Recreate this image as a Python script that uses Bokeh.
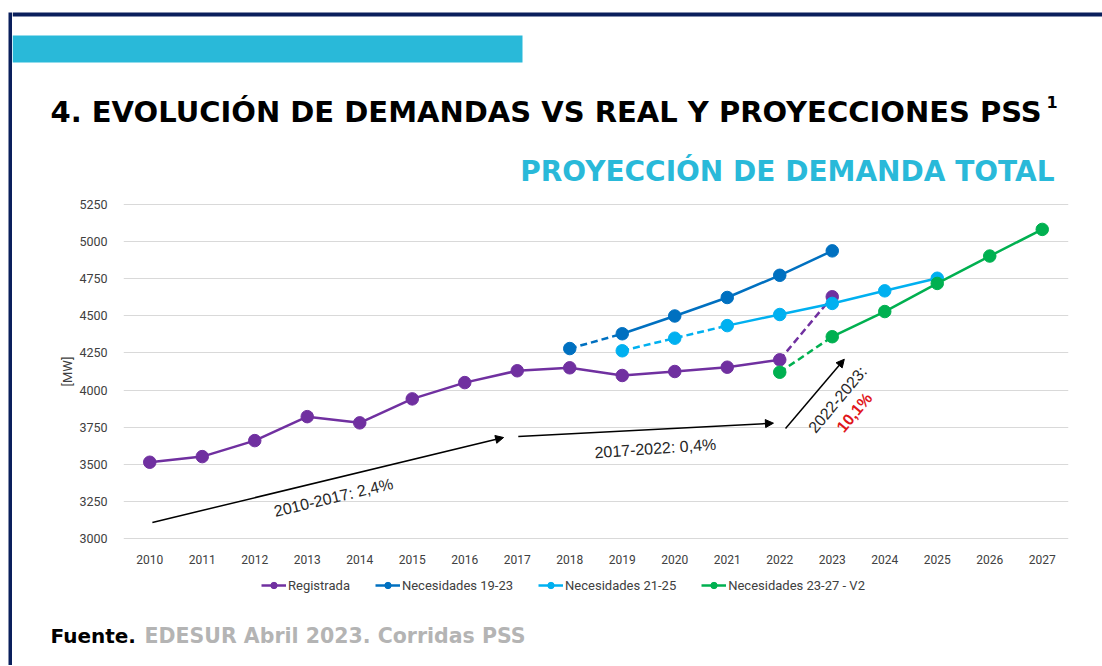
from bokeh.plotting import figure
from bokeh.layouts import column, row
from bokeh.models import (Range1d, FixedTicker, Label, Legend, LegendItem, Arrow,
                          NormalHead, BoxAnnotation, Spacer)
from bokeh.embed import file_html
from bokeh.resources import INLINE

# ---------------- data ----------------
reg_years = list(range(2010, 2024))
reg_vals = [3512, 3550, 3658, 3820, 3778, 3940, 4050, 4130, 4150, 4098, 4125, 4154, 4204, 4630]

n19_years = list(range(2018, 2024))
n19_vals = [4280, 4380, 4500, 4625, 4775, 4940]

n21_years = list(range(2019, 2026))
n21_vals = [4265, 4350, 4435, 4510, 4585, 4670, 4755]

n23_years = list(range(2022, 2028))
n23_vals = [4120, 4360, 4530, 4720, 4905, 5085]

series_names = ["Registrada", "Necesidades 19-23", "Necesidades 21-25", "Necesidades 23-27 - V2"]
dashed_spans = [(2022, 2023), (2018, 2019), (2019, 2021), (2022, 2023)]

x_ticks = list(range(2010, 2028))
y_ticks = [3000, 3250, 3500, 3750, 4000, 4250, 4500, 4750, 5000, 5250]

title_text = "4. EVOLUCIÓN DE DEMANDAS VS REAL Y PROYECCIONES PSS"
title_sup = "1"
subtitle_text = "PROYECCIÓN DE DEMANDA TOTAL"
source_bold = "Fuente."
source_rest = "EDESUR Abril 2023. Corridas PSS"
y_label = "[MW]"
note1 = "2010-2017: 2,4%"
note2 = "2017-2022: 0,4%"
note3 = "2022-2023:"
note3b = "10,1%"

# ---------------- styles ----------------
NAVY = "#0A1F5C"
CYAN = "#29B9D9"
colors = ["#7030A0", "#0070C0", "#00B0F0", "#00B050"]
PAGE_W = 1102
TOP_H, MID_H, BOT_H = 195, 375, 95
STRIP_X0, STRIP_X1, STRIP_Y0 = 8, 12, 12
CX0 = STRIP_X1                 # content starts right of the strip
CW = PAGE_W - CX0


def deco_fig(h, y0):
    f = figure(width=CW, height=h, output_backend="svg", toolbar_location=None,
               x_range=Range1d(CX0, PAGE_W), y_range=Range1d(y0 + h, y0),
               x_axis_type=None, y_axis_type=None, min_border=0)
    f.outline_line_color = None
    f.xgrid.visible = False
    f.ygrid.visible = False
    f.background_fill_color = "white"
    f.border_fill_color = "white"
    return f


# ---------------- navy left strip ----------------
strip = figure(width=STRIP_X1 - STRIP_X0, height=TOP_H + MID_H + BOT_H - STRIP_Y0,
               output_backend="svg", toolbar_location=None, x_axis_type=None,
               y_axis_type=None, min_border=0)
strip.outline_line_color = None
strip.xgrid.visible = False
strip.ygrid.visible = False
strip.background_fill_color = NAVY
strip.border_fill_color = NAVY
strip_col = column(Spacer(width=STRIP_X1 - STRIP_X0, height=STRIP_Y0), strip)

# ---------------- top banner ----------------
top = deco_fig(TOP_H, 0)
top.add_layout(BoxAnnotation(left=CX0, right=PAGE_W, top=12, bottom=16,
                             fill_color=NAVY, fill_alpha=1, line_color=None))
top.add_layout(BoxAnnotation(left=CX0, right=522, top=35, bottom=62,
                             fill_color=CYAN, fill_alpha=1, line_color=None))
top.add_layout(Label(x=50, y=111, text=title_text, text_font="DejaVu Sans",
                     text_font_style="bold", text_font_size="29px", text_color="black",
                     text_baseline="alphabetic"))
top.add_layout(Label(x=1046, y=101, text=title_sup, text_font="DejaVu Sans",
                     text_font_style="bold", text_font_size="16px", text_color="black",
                     text_baseline="alphabetic"))
top.add_layout(Label(x=1054, y=171, text=subtitle_text, text_font="DejaVu Sans",
                     text_font_style="bold", text_font_size="28px", text_color=CYAN,
                     text_align="right", text_baseline="alphabetic"))

# ---------------- chart ----------------
FL, FT, FW, FH = 111, 8, 945, 336
p = figure(width=CW, height=MID_H, output_backend="svg", toolbar_location=None,
           x_range=Range1d(2009.5, 2027.5), y_range=Range1d(2990, 5260),
           min_border_left=FL, min_border_top=FT, min_border_right=CW - FL - FW,
           min_border_bottom=MID_H - FT - FH)
p.outline_line_color = None
p.background_fill_color = "white"
p.border_fill_color = "white"

p.xgrid.grid_line_color = None
p.ygrid.grid_line_color = "#D9D9D9"
p.ygrid.grid_line_width = 1
p.ygrid.ticker = FixedTicker(ticks=y_ticks)

p.xaxis.ticker = FixedTicker(ticks=x_ticks)
p.yaxis.ticker = FixedTicker(ticks=y_ticks)
for ax in (p.xaxis, p.yaxis):
    ax.axis_line_color = None
    ax.major_tick_line_color = None
    ax.minor_tick_line_color = None
    ax.major_label_text_font = "Roboto"
    ax.major_label_text_font_size = "12px"
    ax.major_label_text_color = "#404040"
p.yaxis.major_label_text_font_size = "12.5px"
p.yaxis.major_label_standoff = 10
p.xaxis.major_label_standoff = 9
p.yaxis.axis_label = y_label
p.yaxis.axis_label_text_font = "Roboto"
p.yaxis.axis_label_text_font_size = "13px"
p.yaxis.axis_label_text_font_style = "normal"
p.yaxis.axis_label_text_color = "#404040"
p.yaxis.axis_label_standoff = 1

all_series = [(reg_years, reg_vals), (n19_years, n19_vals), (n21_years, n21_vals), (n23_years, n23_vals)]
for (yrs, vals), name, color, (d0, d1) in zip(all_series, series_names, colors, dashed_spans):
    first = [(x, v) for x, v in zip(yrs, vals) if x <= d0]
    second = [(x, v) for x, v in zip(yrs, vals) if x >= d1]
    das = [(x, v) for x, v in zip(yrs, vals) if d0 <= x <= d1]
    for seg in (first, second):
        if len(seg) > 1:
            p.line([s[0] for s in seg], [s[1] for s in seg], line_color=color, line_width=2.5)
    p.line([s[0] for s in das], [s[1] for s in das], line_color=color, line_width=2.5,
           line_dash="7 4")
    p.scatter(yrs, vals, size=12.5, fill_color=color, line_color=color, marker="circle")

arrows = [((2010.05, 3105), (2016.74, 3679)),
          ((2017.02, 3686), (2021.88, 3776)),
          ((2022.11, 3740), (2023.23, 4208))]
for (x0, y0), (x1, y1) in arrows:
    p.add_layout(Arrow(x_start=x0, y_start=y0, x_end=x1, y_end=y1,
                       line_color="black", line_width=1.5,
                       end=NormalHead(size=8, fill_color="black", line_color="black")))

note_style = dict(text_font="Liberation Sans", text_align="center", text_baseline="middle",
                  angle_units="deg", text_font_size="16px")
p.add_layout(Label(x=2013.5, y=3274, text=note1, angle=13.5, text_color="#262626", **note_style))
p.add_layout(Label(x=2019.63, y=3605, text=note2, angle=4, text_color="#262626", **note_style))
p.add_layout(Label(x=2023.1, y=3936, text=note3, angle=50, text_color="#262626", **note_style))
p.add_layout(Label(x=2023.42, y=3848, text=note3b, angle=50, text_color="#E0161B",
                   text_font_style="bold", **note_style))

# ---------------- footer with legend ----------------
B0 = TOP_H + MID_H
bot = deco_fig(BOT_H, B0)
items = []
for name, color in zip(series_names, colors):
    lr = bot.line(x=[-50, -40], y=[B0 - 50, B0 - 50], line_color=color, line_width=2.5)
    sr = bot.scatter(x=[-50], y=[B0 - 50], size=12, fill_color=color, line_color=color,
                     marker="circle")
    items.append(LegendItem(label=name, renderers=[lr, sr]))
LEG_H = 16
legend = Legend(items=items, orientation="horizontal",
                location=(261 - CX0, BOT_H - LEG_H - (577 - B0)),
                glyph_width=25, glyph_height=LEG_H, label_height=LEG_H, label_standoff=2,
                spacing=25, padding=0, margin=0, border_line_color=None,
                background_fill_alpha=0, label_text_font="Roboto",
                label_text_font_size="13px", label_text_color="#404040")
bot.add_layout(legend)
bot.add_layout(Label(x=50, y=635, text=source_bold, text_font="DejaVu Sans",
                     text_font_style="bold", text_font_size="20px", text_color="black",
                     text_baseline="alphabetic"))
bot.add_layout(Label(x=144, y=635, text=source_rest, text_font="DejaVu Sans",
                     text_font_style="bold", text_font_size="20.5px", text_color="#B4B4B4",
                     text_baseline="alphabetic"))

layout = row(Spacer(width=STRIP_X0, height=TOP_H + MID_H + BOT_H), strip_col,
             column(top, row(p), bot))
open("out.html", "w").write(file_html(layout, INLINE))
